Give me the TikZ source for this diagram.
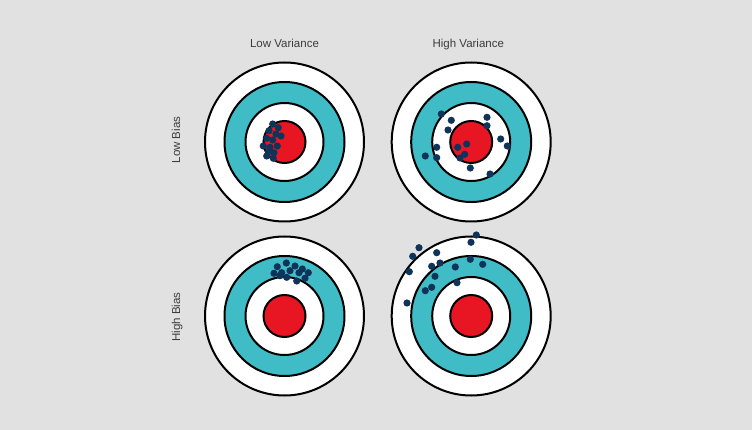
\documentclass[tikz,border=0pt]{standalone}
\usepackage{fontspec}
\setmainfont{Liberation Sans}
\definecolor{bgc}{RGB}{225,225,225}
\definecolor{tealc}{RGB}{64,188,198}
\definecolor{redc}{RGB}{232,22,34}
\definecolor{dotc}{RGB}{16,52,89}
\definecolor{txtc}{RGB}{60,60,60}
\begin{document}
\begin{tikzpicture}[x=1pt,y=-1pt,
  ring/.style={draw=black,line width=2pt},
  shot/.style={fill=dotc},
  lbl/.style={text=txtc,font=\fontsize{11.5}{13}\selectfont,inner sep=0pt}]
\fill[bgc] (0,0) rectangle (752,430);
\useasboundingbox (0,0) rectangle (752,430);
\foreach \cx/\cy in {284.5/142, 471.2/142, 284.5/316, 471.2/316}{
  \filldraw[ring,fill=white] (\cx,\cy) circle[radius=79.5pt];
  \filldraw[ring,fill=tealc] (\cx,\cy) circle[radius=60pt];
  \filldraw[ring,fill=white] (\cx,\cy) circle[radius=39pt];
  \filldraw[ring,fill=redc] (\cx,\cy) circle[radius=21pt];
}
% low bias, low variance
\foreach \px/\py in {272.7/124, 278.3/127.7, 269/130.7, 276/134, 281/136, 266.7/138.3, 272.7/140, 263.3/146, 270/147.3, 277.3/146, 268.3/151.7, 274/152.7, 266.7/156, 273.3/158.3}
  \fill[shot] (\px,\py) circle[radius=3.6pt];
% low bias, high variance
\foreach \px/\py in {441.3/114, 451.3/120.3, 448/130, 487/117.3, 487/125.7, 500.7/139, 507.3/146, 436.7/147.3, 425.3/156, 436.7/157.7, 457.7/147.3, 466.7/144, 464.7/154.3, 460/158, 470.3/168, 490/174}
  \fill[shot] (\px,\py) circle[radius=3.6pt];
% high bias, low variance
\foreach \px/\py in {277.3/266.7, 286.3/263, 295/266, 302.3/269, 308.3/272.7, 274/273.3, 281.7/272.7, 290/270.7, 299/272.7, 286.7/277.3, 296.7/281, 305/278.3, 280/275.7}
  \fill[shot] (\px,\py) circle[radius=3.6pt];
% high bias, high variance
\foreach \px/\py in {476.3/235, 471/242.3, 419/247.7, 412.7/256.3, 436.7/252.7, 409.3/271.7, 431.7/266.3, 440/263, 455.3/267, 470.3/259.3, 482.7/264.3, 435/276.3, 431.7/287.3, 425.3/290.7, 457/282.7, 407/303}
  \fill[shot] (\px,\py) circle[radius=3.6pt];
\node[lbl,anchor=base] (lv) at (284.5,48) {Low Variance};
\node[lbl,anchor=base] (hv) at (468.3,48) {High Variance};
\node[lbl,anchor=base,rotate=90] (lb) at (180,140) {Low Bias};
\node[lbl,anchor=base,rotate=90] (hb) at (180,317) {High Bias};
\end{tikzpicture}
\end{document}
